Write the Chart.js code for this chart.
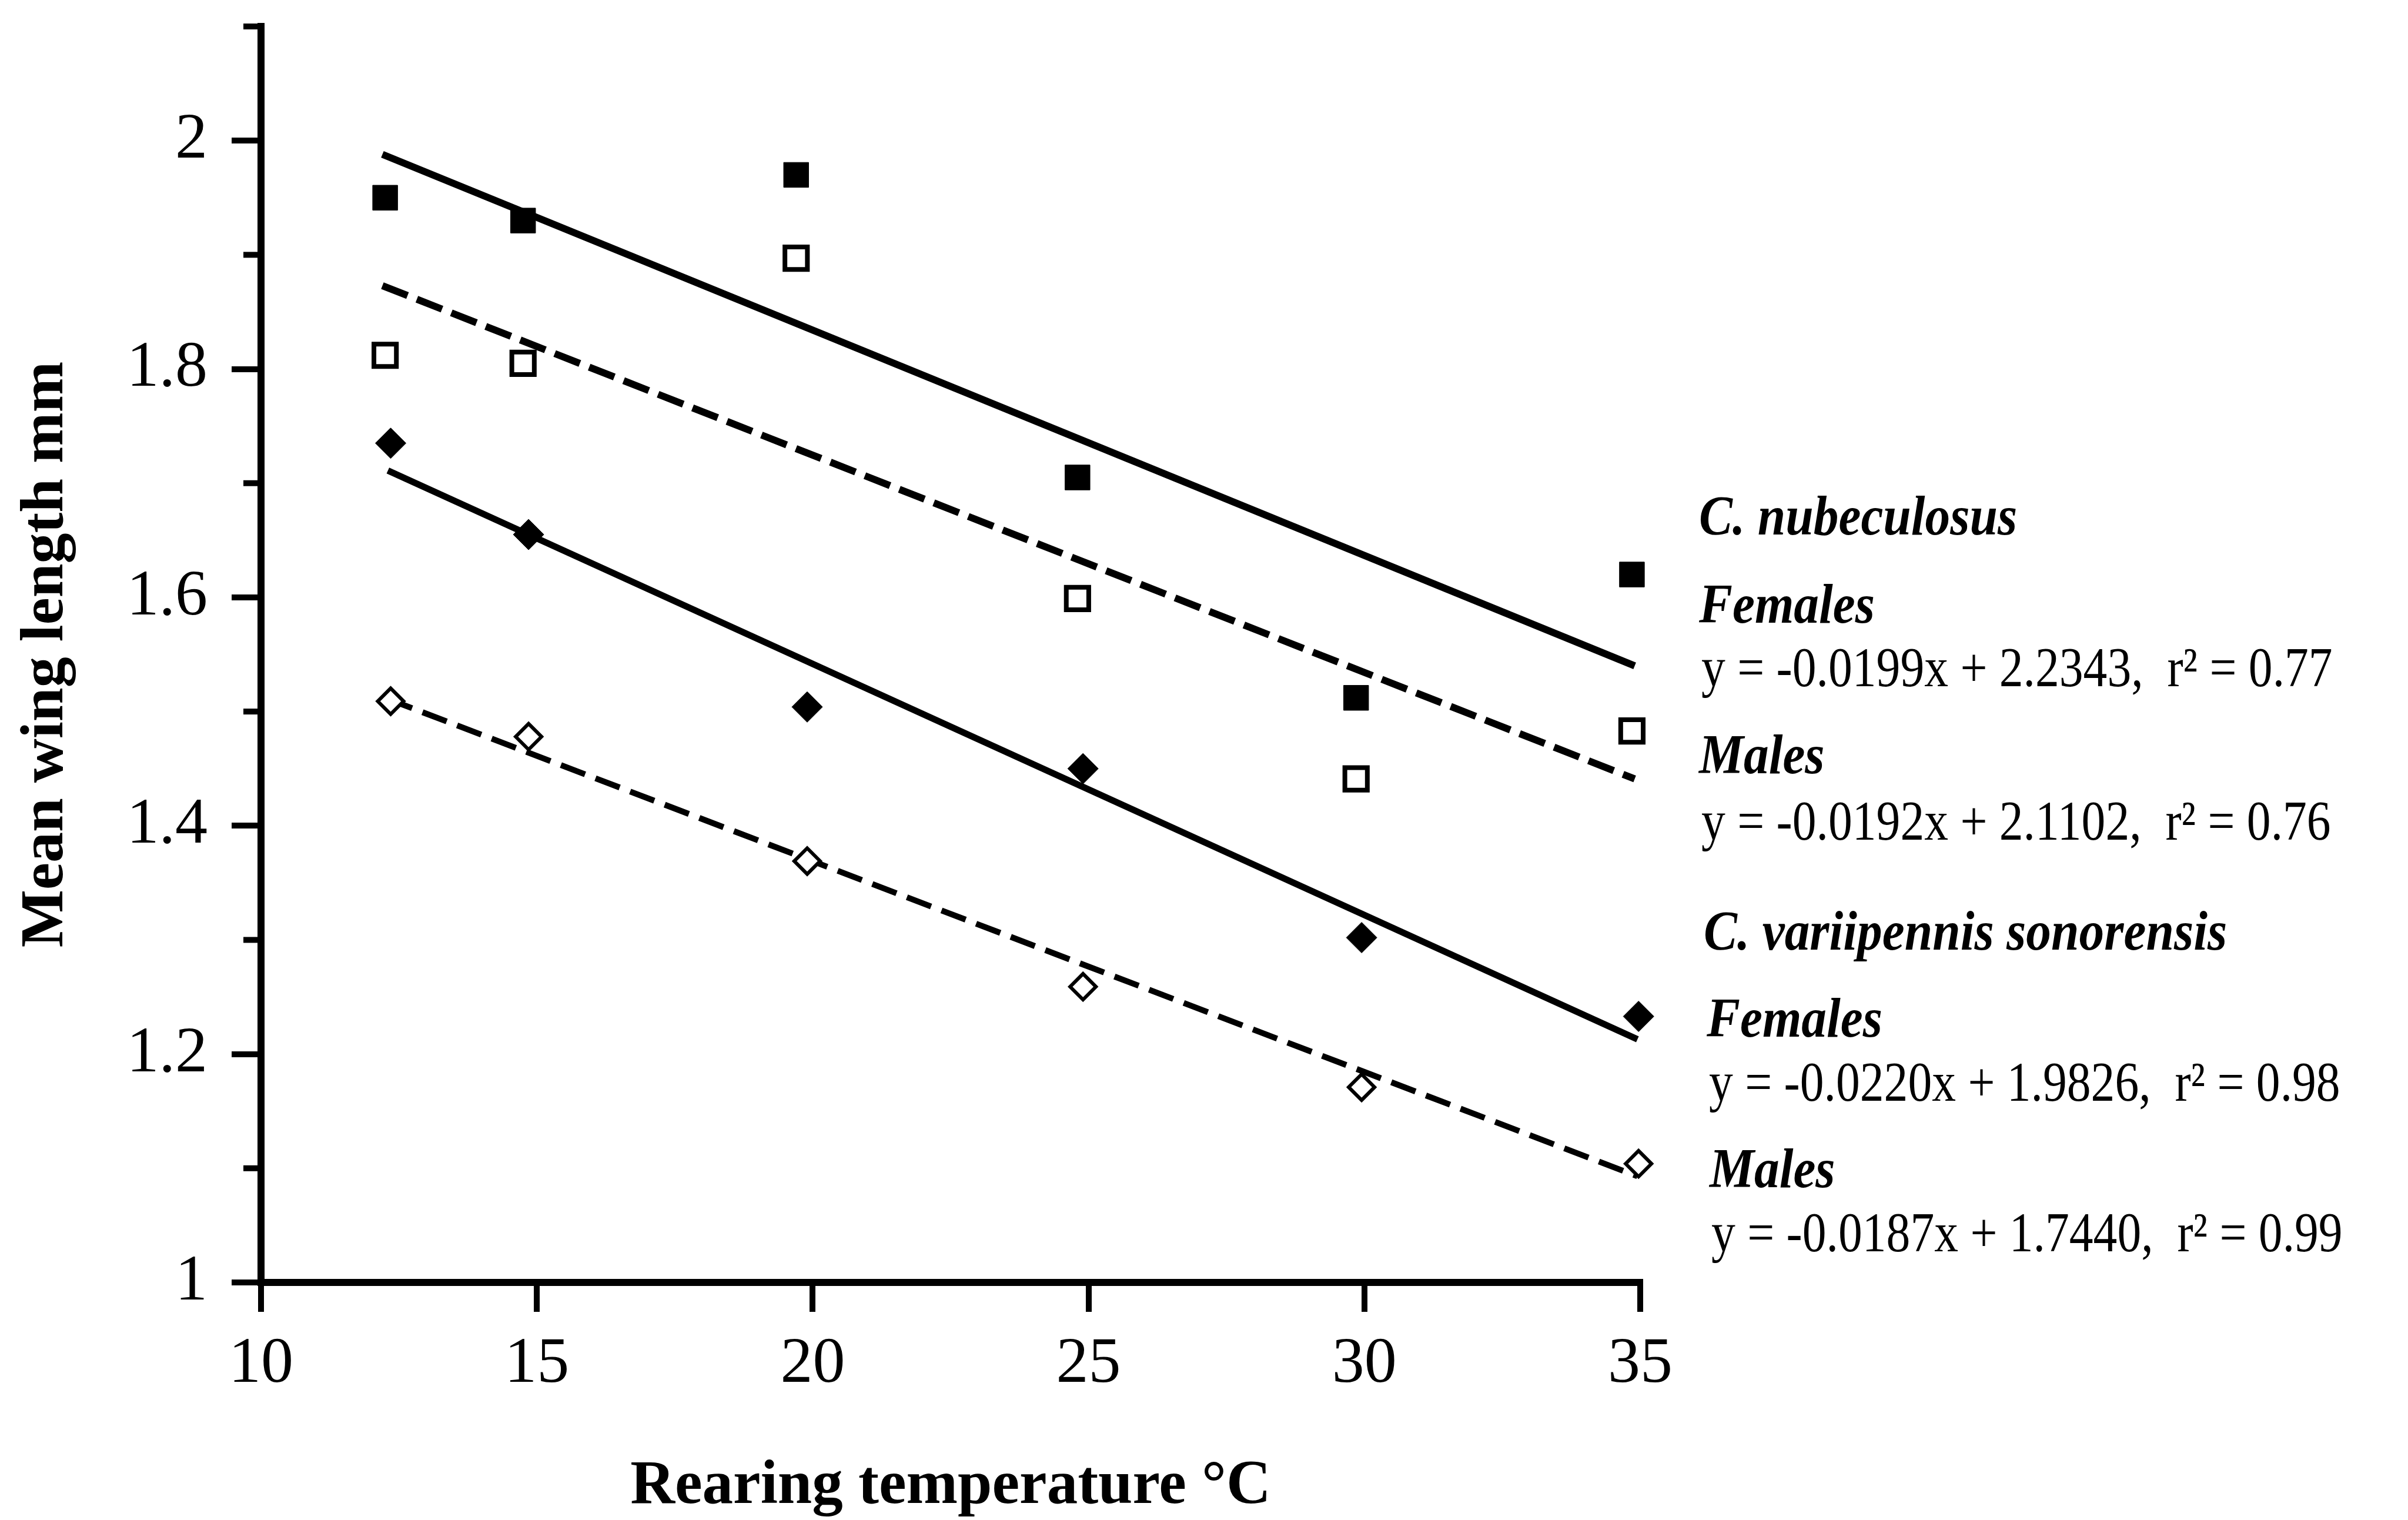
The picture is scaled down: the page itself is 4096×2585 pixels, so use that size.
<!DOCTYPE html>
<html>
<head>
<meta charset="utf-8">
<title>Mean wing length vs rearing temperature</title>
<script src="https://cdn.jsdelivr.net/npm/chart.js@4.4.1/dist/chart.umd.min.js"></script>
<style>
  html, body { margin: 0; padding: 0; background: #fff; }
  #wrap { width: 4096px; height: 2585px; }
</style>
</head>
<body>
<div id="wrap"><canvas id="wingChart" width="4096" height="2585"></canvas></div>
<script>
// rearing temperature (°C) where each group was plotted
const nubTemps = [12.25, 14.75, 19.7, 24.8, 29.85, 34.85];
const sonTemps = [12.35, 14.85, 19.9, 24.9, 29.95, 34.97];

// mean wing length (mm)
const nubFemales = [1.950, 1.930, 1.970, 1.705, 1.512, 1.620];
const nubMales   = [1.812, 1.805, 1.897, 1.599, 1.441, 1.483];
const sonFemales = [1.735, 1.655, 1.504, 1.450, 1.302, 1.233];
const sonMales   = [1.509, 1.478, 1.369, 1.259, 1.171, 1.104];

// regression lines, end points
const nubFitX = [12.2, 34.9];
const sonFitX = [12.3, 34.95];
const nubFemaleFit = [1.988, 1.540];
const nubMaleFit   = [1.873, 1.441];
const sonFemaleFit = [1.711, 1.213];
const sonMaleFit   = [1.511, 1.093];

// axes
const xTicks = [10, 15, 20, 25, 30, 35];
const xTickLabels = ['10', '15', '20', '25', '30', '35'];
const yTicks = [1, 1.2, 1.4, 1.6, 1.8, 2];
const yTickLabels = ['1', '1.2', '1.4', '1.6', '1.8', '2'];
const yMinorTicks = [1.1, 1.3, 1.5, 1.7, 1.9, 2.1];

// text block at the right
const noteTexts = [
  'C. nubeculosus',
  'Females',
  'y = -0.0199x + 2.2343,  r² = 0.77',
  'Males',
  'y = -0.0192x + 2.1102,  r² = 0.76',
  'C. variipennis sonorensis',
  'Females',
  'y = -0.0220x + 1.9826,  r² = 0.98',
  'Males',
  'y = -0.0187x + 1.7440,  r² = 0.99'
];

const SERIF = '"Liberation Serif", "Times New Roman", Times, serif';

// where each note line sits (baseline) and how it is set
const noteLayout = [
  { x: 2890, y: 909,  style: 'head' },
  { x: 2890, y: 1059, style: 'head' },
  { x: 2894, y: 1167, style: 'eq' },
  { x: 2890, y: 1315, style: 'head' },
  { x: 2894, y: 1428, style: 'eq' },
  { x: 2898, y: 1615, style: 'head' },
  { x: 2903, y: 1763, style: 'head' },
  { x: 2907, y: 1872, style: 'eq' },
  { x: 2908, y: 2019, style: 'head' },
  { x: 2911, y: 2128, style: 'eq' }
];
const noteFonts = {
  head: { font: 'italic bold 96px ' + SERIF, squeeze: 0.89 },
  eq:   { font: '96px ' + SERIF, squeeze: 0.85 }
};

const xy = (xs, ys) => xs.map((x, i) => ({ x, y: ys[i] }));

function pointSet(label, xs, ys, style, radius, fill, bw) {
  return {
    label,
    data: xy(xs, ys),
    showLine: false,
    pointStyle: style,
    pointRadius: radius,
    pointHoverRadius: radius,
    pointBackgroundColor: fill,
    pointBorderColor: '#000',
    pointBorderWidth: bw,
    clip: false
  };
}

function fitSet(label, xs, ys, width, dash) {
  return {
    label,
    data: xy(xs, ys),
    showLine: true,
    pointRadius: 0,
    borderColor: '#000',
    borderWidth: width,
    borderDash: dash,
    borderCapStyle: 'butt',
    fill: false,
    clip: false
  };
}

// minor y ticks + the equations block
const extras = {
  id: 'extras',
  afterDraw(chart) {
    const { ctx, chartArea, scales } = chart;
    ctx.save();
    ctx.strokeStyle = '#000';
    ctx.lineWidth = 10;
    ctx.lineCap = 'butt';
    yMinorTicks.forEach(v => {
      const py = scales.y.getPixelForValue(v);
      ctx.beginPath();
      ctx.moveTo(chartArea.left - 30, py);
      ctx.lineTo(chartArea.left, py);
      ctx.stroke();
    });

    ctx.fillStyle = '#000';
    ctx.textBaseline = 'alphabetic';
    ctx.textAlign = 'left';
    noteTexts.forEach((t, i) => {
      const l = noteLayout[i];
      const f = noteFonts[l.style];
      ctx.save();
      ctx.translate(l.x, l.y);
      ctx.scale(f.squeeze, 1);
      ctx.font = f.font;
      ctx.fillText(t, 0, 0);
      ctx.restore();
    });
    ctx.restore();
  }
};

const ctx = document.getElementById('wingChart').getContext('2d');

new Chart(ctx, {
  type: 'scatter',
  data: {
    datasets: [
      pointSet('C. nubeculosus females', nubTemps, nubFemales, 'rect', 30, '#000', 1),
      pointSet('C. nubeculosus males', nubTemps, nubMales, 'rect', 27, '#fff', 8),
      pointSet('C. v. sonorensis females', sonTemps, sonFemales, 'rectRot', 26, '#000', 1),
      pointSet('C. v. sonorensis males', sonTemps, sonMales, 'rectRot', 22, '#fff', 6),
      fitSet('fit nub F', nubFitX, nubFemaleFit, 12, []),
      fitSet('fit nub M', nubFitX, nubMaleFit, 12, [46, 17]),
      fitSet('fit son F', sonFitX, sonFemaleFit, 11, []),
      fitSet('fit son M', sonFitX, sonMaleFit, 10, [44, 19])
    ]
  },
  options: {
    responsive: false,
    devicePixelRatio: 1,
    animation: false,
    events: [],
    layout: { padding: { left: 0, right: 1306, top: 45, bottom: 0 } },
    plugins: {
      legend: { display: false },
      tooltip: { enabled: false }
    },
    scales: {
      x: {
        type: 'linear',
        min: 10,
        max: 35,
        afterBuildTicks: s => { s.ticks = xTicks.map(v => ({ value: v })); },
        afterFit: s => { s.height = 404; s.paddingLeft = 0; s.paddingRight = 0; },
        ticks: {
          callback: (v, i) => xTickLabels[i],
          font: { family: SERIF, size: 110, lineHeight: 1.2 },
          color: '#000',
          padding: 24,
          maxRotation: 0,
          autoSkip: false
        },
        grid: {
          drawOnChartArea: false,
          tickLength: 50,
          tickWidth: 10,
          tickColor: '#000',
          lineWidth: 10,
          color: '#000'
        },
        border: { display: true, width: 12, color: '#000' },
        title: {
          display: true,
          text: 'Rearing temperature °C',
          font: { family: SERIF, size: 105, weight: 'bold', lineHeight: 1 },
          color: '#000',
          padding: { top: 0, bottom: 4 }
        }
      },
      y: {
        type: 'linear',
        min: 1,
        max: 2.1,
        afterBuildTicks: s => { s.ticks = yTicks.map(v => ({ value: v })); },
        afterFit: s => { s.width = 444; s.paddingTop = 0; s.paddingBottom = 0; },
        ticks: {
          callback: (v, i) => yTickLabels[i],
          font: { family: SERIF, size: 110, lineHeight: 1.2 },
          color: '#000',
          padding: 41,
          autoSkip: false
        },
        grid: {
          drawOnChartArea: false,
          tickLength: 50,
          tickWidth: 10,
          tickColor: '#000',
          lineWidth: 10,
          color: '#000'
        },
        border: { display: true, width: 12, color: '#000' },
        title: {
          display: true,
          text: 'Mean wing length mm',
          font: { family: SERIF, size: 104, weight: 'bold', lineHeight: 1 },
          color: '#000',
          padding: { top: 27, bottom: 0 }
        }
      }
    }
  },
  plugins: [extras]
});
</script>
</body>
</html>
